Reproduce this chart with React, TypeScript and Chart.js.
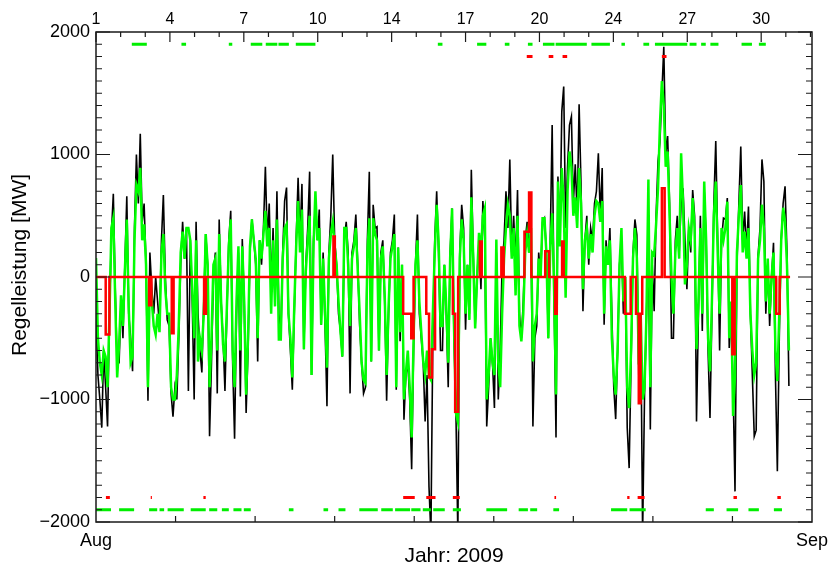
import React, { useEffect, useRef } from 'react';
import { Chart, registerables } from 'chart.js';

Chart.register(...registerables);

// ---- data (2-hour samples, 12 per day, starting 1 Aug 2009 00:00) ----
const SAMPLES_PER_DAY = 12;

const blackMW: number[] = [
  -300, -800, -1000, -1230, -600, -900, -1220, -300, 350, 680, -100, -700,
  -700, -200, -500, 100, 660, -300, -500, -770, 400, 1000, 600, 1170,
  450, 600, 100, -1010, 200, -100, -300, 0, -200, -400, 300, 670,
  0, -350, -400, -950, -1140, -900, -1000, -500, 100, 450, 150, 400,
  -930, 300, -200, -1000, 450, -300, -600, -780, -200, 350, 100, -1300,
  -700, 0, 200, -950, 470, -200, -500, -930, -300, 300, 540, -700,
  -1320, -300, 200, -975, 310, -200, -1110, -600, 200, 470, 300, 100,
  -690, 300, 100, 400, 900, 300, 600, -100, 400, -200, 700, -300,
  -500, 200, 620, 730, -300, -600, -920, -300, 300, 810, 300, 760,
  -590, 100, 400, 860, -800, 300, 600, 300, 550, -390, 200, -400,
  -1055, 200, 500, 1000, 300, 100, -300, -440, -650, 300, 450, 200,
  -950, 200, 300, 510, 100, -400, -700, -950, -900, 300, 860, -690,
  590, 400, 410, -600, 200, 300, -200, -1010, -300, 200, 300, 510,
  -920, 240, -525, 100, -1165, -800, -700, -1000, -1570, -600, 100, 510,
  -300, -500, -700, -1180, -800, -1710, -2100, -500, 300, 700, 200, -600,
  -600, 100, -300, -900, 200, 560, -500, -1110, -2100, 200, 590, 400,
  -430, 100, -300, 875, 200, -400, 0, 300, -100, 620, 300, -1220,
  -900, -500, -700, -1070, 200, -1000, -600, 100, 300, 700, 400, 960,
  200, 500, 100, 710, -300, -500, -200, 300, 450, 200, 400, -1220,
  -500, -400, 200, 0, 450, 480, 210, -500, 300, 1240, -200, -1310,
  820, 300, 1350, 1555, 400, 900, 1240, 1310, 600, 920, 500, 1410,
  750, -280, 300, 500, 100, 400, 300, 600, 700, 1010, 500, 890,
  -390, 300, 100, 400, -300, -900, -1160, -600, 100, 300, -300, 0,
  -1230, -1560, -700, 200, 470, 345, -800, -300, -2100, -960, -300, 300,
  -1245, 100, -280, 500, 945, 1100, 1500, 1880, 1000, 1150, 600, -500,
  -500, 300, 500, 200, 600, 725, 300, -100, 400, 200, 710, 500,
  -1180, -300, 500, -440, 700, 300, -600, -1150, -300, 600, 1110, 300,
  -600, 300, 480, 470, 645, -580, -300, -900, -1750, 100, 600, 1065,
  300, 535, 200, 575, -300, -800, -1300, -1250, 180, 400, 960, 780,
  -300, 100, -400, 0, 280, -800, -1585, -500, 300, 600, 740, 200,
  -890,
];

const greenMW: number[] = [
  155, -500, -700, -800, -600, -650, -900, -300, 400, 480, -200, -820,
  -550, -150, -400, 50, 470, -250, -700, -650, 300, 750, 700, 890,
  300, 430, 100, -900, 0, -200, -400, -470, -300, -450, 200, 350,
  -100, -300, -300, -900, -1000, -1000, -800, -400, 200, 370, 150, 400,
  400, 300, -100, -500, 300, -690, -500, -600, -300, 350, 100, -900,
  -500, 100, 150, -600, 350, -200, -550, -690, -250, 250, 470, -600,
  -900, -200, 250, -600, 250, -200, -960, -500, 250, 470, 300, 150,
  -500, 300, 150, 350, 540, 250, 400, -300, 300, -240, 470, -510,
  -510, 150, 400, 430, -300, -500, -820, -250, 250, 620, 200, 550,
  -590, 50, 300, 500, -800, 250, 700, 300, 400, -390, 150, -300,
  -740, 150, 350, 450, 250, 100, -200, -440, -650, 400, 400, 100,
  -400, 150, 250, 400, 50, -300, -700, -840, -865, 200, 480, -690,
  480, 350, 300, -600, 150, 250, -150, -800, -250, 150, 250, 350,
  -900, 240, -450, 100, -1000, -780, -600, -900, -1310, -500, 100, 300,
  -200, -450, -690, -800, -600, -810, -840, -300, 200, 590, 300, -400,
  -400, 100, -250, -700, 150, 560, -400, -1110, -1180, 150, 470, 300,
  -300, 100, -350, 650, 150, -420, 0, 360, 200, 500, 560, -1000,
  -800, -500, -700, -800, 305, -700, -900, -300, 150, 400, 590, 500,
  150, 400, -150, 500, -400, -525, -300, 200, 350, 200, 400, -690,
  -400, -300, 150, 0, 480, 480, 200, -500, 250, 520, -100, -960,
  780, 250, 890, 600, -170, 700, 1025, 900, 500, 650, 400, 890,
  600, -100, 300, 400, 150, 350, 200, 500, 620, 600, 450, 620,
  -300, 250, 100, 300, -500, -800, -960, -600, 100, 400, -200, 0,
  -900, -1070, -600, 150, 400, 155, -715, -300, -1000, -905, -300, 795,
  -900, 200, 180, 430, 725, 1245, 1600, 1400, 900, 1025, 500, 0,
  -300, 200, 400, 150, 1010, 600, -60, 100, 400, 300, 645, 400,
  -590, -200, 400, -300, 780, 300, -500, -770, -200, 500, 780, 200,
  -300, 400, 300, 400, 615, -500, -200, -1135, -800, 200, 500, 750,
  200, 370, 150, 400, -300, -600, -800, -700, 150, 300, 590, 400,
  -200, 150, -300, 0, 200, -600, -850, -300, 300, 565, 450, 100,
  -600,
];

// red step series: change points (day) and the value held from there on
const redDays: number[] = [
  0, 0.42, 0.58, 2.3, 2.4, 3.28, 3.36, 4.68, 4.76, 10.28, 10.34,
  13.3, 13.65, 13.75, 14.3, 14.42, 14.55, 14.68, 15.45, 15.55, 15.68,
  16.62, 16.7, 17.55, 17.65, 18.55, 18.75, 18.85, 19.45, 19.62, 19.88, 19.95,
  20.18, 20.25, 22.9, 23.15, 23.38, 23.5, 23.58, 23.65, 24.5, 24.62,
  27.55, 27.65, 29.45, 29.6, 30.05,
];
const redValues: number[] = [
  0, -470, 0, -230, 0, -460, 0, -300, 0, 330, 0,
  -300, -500, 0, -300, -820, -590, 0, -300, -1100, 0,
  290, 0, 240, 0, 370, 690, 0, 210, 0, -300, 0,
  290, 0, -300, 0, -300, -1030, -300, 0, 725, 0,
  -630, 0, -300, 0, 0,
];

// flag marks (intervals in days)
const greenTopFlags: number[][] = [
  [1.55, 2.2], [3.7, 3.9], [5.75, 5.9], [6.7, 7.2], [7.35, 7.85], [7.9, 8.35], [8.65, 9.5],
  [14.8, 15.0], [16.5, 16.9], [17.7, 17.9], [18.7, 18.9], [19.35, 19.85], [19.9, 21.25],
  [21.45, 22.25], [22.75, 22.9], [23.7, 23.95], [24.2, 25.6], [25.7, 26.0], [26.2, 26.4],
  [26.6, 26.95], [27.95, 28.4], [28.7, 29.0],
];
const redTopFlags: number[][] = [[18.65, 18.9], [19.6, 19.8], [20.2, 20.4], [24.5, 24.7]];
const greenBottomFlags: number[][] = [
  [0.0, 0.65], [1.0, 1.65], [2.3, 2.65], [2.75, 2.95], [3.1, 3.8], [4.1, 4.75], [4.9, 5.25],
  [5.45, 5.75], [5.95, 6.3], [6.4, 6.7], [8.35, 8.55], [9.85, 10.05], [10.5, 10.8],
  [11.4, 12.2], [12.35, 12.85], [12.95, 13.6], [13.65, 14.05], [14.15, 14.5], [14.6, 15.1],
  [15.45, 15.8], [16.9, 17.8], [18.3, 18.7], [18.8, 19.1], [19.8, 20.05], [22.3, 23.0],
  [23.1, 23.8], [26.4, 26.75], [27.3, 27.8], [28.25, 28.7], [29.35, 29.7],
];
const redBottomFlags: number[][] = [
  [0.43, 0.6], [2.37, 2.42], [4.65, 4.75], [13.3, 13.8], [14.3, 14.7], [15.45, 15.75],
  [19.85, 19.92], [23.0, 23.1], [23.45, 23.75], [27.6, 27.75], [29.5, 29.65],
];
const FLAG_GREEN = 1900;
const FLAG_RED = 1800;

// axes
const yTickValues: number[] = [-2000, -1000, 0, 1000, 2000];
const topTickLabels: string[] = ['1', '4', '7', '10', '14', '17', '20', '24', '27', '30'];
const TOP_TICK_STEP = 3.2; // days between labelled top ticks
const X_MAX_DAYS = 31;
const bottomLabels: string[] = ['Aug', 'Sep'];
const Y_TITLE = 'Regelleistung [MW]';

const FAMILY = '"Liberation Sans", Arial, Helvetica, sans-serif';
const TICK_FONT = { family: FAMILY, size: 18 };
const TOP_FONT = { family: FAMILY, size: 16 };
const TITLE_FONT = { family: FAMILY, size: 21 };

function toPoints(values: number[]) {
  return values.map((v, i) => ({ x: i / SAMPLES_PER_DAY, y: v }));
}
function flagPoints(intervals: number[][], level: number) {
  const pts: { x: number; y: number | null }[] = [];
  intervals.forEach(([s, e]) => {
    pts.push({ x: s, y: level }, { x: e, y: level }, { x: e, y: null });
  });
  return pts;
}

const idlFrame = {
  id: 'idlFrame',
  afterDatasetsDraw(chart: any) {
    const { ctx, chartArea: a, scales } = chart;
    const y = scales.y;
    const x = scales.x;
    ctx.save();
    ctx.strokeStyle = '#1a1a1a';
    ctx.lineWidth = 1.5;
    ctx.strokeRect(a.left, a.top, a.right - a.left, a.bottom - a.top);
    ctx.lineWidth = 1.2;
    ctx.beginPath();
    for (let v = -2000; v <= 2000; v += 100) {
      const py = y.getPixelForValue(v);
      const len = v % 1000 === 0 ? 14 : 6;
      ctx.moveTo(a.left, py);
      ctx.lineTo(a.left + len, py);
      ctx.moveTo(a.right, py);
      ctx.lineTo(a.right - len, py);
    }
    for (let k = 0; (k * TOP_TICK_STEP) / 3 <= X_MAX_DAYS; k++) {
      const px = x.getPixelForValue((k * TOP_TICK_STEP) / 3);
      const len = k % 3 === 0 ? 10 : 5;
      ctx.moveTo(px, a.top);
      ctx.lineTo(px, a.top + len);
    }
    for (let k = 1; k < 9; k++) {
      const px = x.getPixelForValue((X_MAX_DAYS * k) / 9);
      ctx.moveTo(px, a.bottom);
      ctx.lineTo(px, a.bottom - 6);
    }
    ctx.stroke();

    // y-axis title, placed like the original (slightly above the plot middle)
    const cy = (a.top + a.bottom) / 2 - 12;
    ctx.translate(20, cy);
    ctx.rotate(-Math.PI / 2);
    ctx.fillStyle = '#000';
    ctx.font = `${TITLE_FONT.size}px ${FAMILY}`;
    ctx.textAlign = 'center';
    ctx.textBaseline = 'middle';
    ctx.fillText(Y_TITLE, 0, 0);
    ctx.restore();
  },
};

export default function App() {
  const canvasRef = useRef<HTMLCanvasElement | null>(null);

  useEffect(() => {
    if (!canvasRef.current) return;
    const flagStyle = { borderWidth: 3, pointRadius: 0, spanGaps: false, borderCapStyle: 'butt' as const };
    const noGrid = { display: false, drawTicks: false, tickLength: 0 };
    const chart = new Chart(canvasRef.current, {
      type: 'line',
      data: {
        datasets: [
          { data: flagPoints(greenTopFlags, FLAG_GREEN), borderColor: '#00ee00', ...flagStyle, order: 0 },
          { data: flagPoints(greenBottomFlags, -FLAG_GREEN), borderColor: '#00ee00', ...flagStyle, order: 0 },
          { data: flagPoints(redTopFlags, FLAG_RED), borderColor: '#ff0000', ...flagStyle, order: 0 },
          { data: flagPoints(redBottomFlags, -FLAG_RED), borderColor: '#ff0000', ...flagStyle, order: 0 },
          {
            data: redDays.map((d, i) => ({ x: d, y: redValues[i] })),
            borderColor: '#ff0000', borderWidth: 2.5, pointRadius: 0, stepped: true, order: 1,
          },
          { data: toPoints(greenMW), borderColor: '#00ff00', borderWidth: 2.5, pointRadius: 0, order: 2 },
          { data: toPoints(blackMW), borderColor: '#000000', borderWidth: 1.6, pointRadius: 0, order: 3 },
        ],
      },
      options: {
        responsive: false,
        animation: false,
        layout: { padding: { left: 0, right: 16, top: 0, bottom: 0 } },
        plugins: { legend: { display: false }, tooltip: { enabled: false } },
        elements: { line: { tension: 0 } },
        scales: {
          x: {
            type: 'linear', position: 'bottom', min: 0, max: X_MAX_DAYS,
            grid: noGrid, border: { display: false },
            afterBuildTicks: (s: any) => { s.ticks = [{ value: 0 }, { value: X_MAX_DAYS }]; },
            ticks: {
              autoSkip: false, maxRotation: 0, padding: 8, color: '#000', font: TICK_FONT,
              callback: (v: any) => (v === 0 ? bottomLabels[0] : bottomLabels[1]),
            },
            title: { display: true, text: 'Jahr: 2009', color: '#000', font: TITLE_FONT, padding: { top: 0, bottom: -4 } },
            afterFit: (s: any) => { s.height = 43; s.paddingLeft = 0; s.paddingRight = 0; },
          },
          x2: {
            type: 'linear', position: 'top', min: 0, max: X_MAX_DAYS,
            grid: noGrid, border: { display: false },
            afterBuildTicks: (s: any) => { s.ticks = topTickLabels.map((_, i) => ({ value: i * TOP_TICK_STEP })); },
            ticks: {
              autoSkip: false, maxRotation: 0, padding: 3, color: '#000', font: TOP_FONT,
              callback: (_v: any, i: number) => topTickLabels[i],
            },
            afterFit: (s: any) => { s.height = 32; s.paddingLeft = 0; s.paddingRight = 0; },
          },
          y: {
            type: 'linear', min: -2000, max: 2000,
            grid: noGrid, border: { display: false },
            afterBuildTicks: (s: any) => { s.ticks = yTickValues.map((v) => ({ value: v })); },
            ticks: {
              padding: 6, color: '#000', font: TICK_FONT,
              callback: (v: any) => (v < 0 ? '\u2212' + Math.abs(v) : String(v)),
            },
            afterFit: (s: any) => { s.width = 96; s.paddingTop = 0; s.paddingBottom = 0; },
          },
        },
      },
      plugins: [idlFrame],
    } as any);
    return () => chart.destroy();
  }, []);

  return (
    <div style={{ position: 'fixed', left: 0, top: 0, width: 828, height: 565, background: '#fff' }}>
      <canvas ref={canvasRef} width={828} height={565} style={{ display: 'block' }} />
    </div>
  );
}
